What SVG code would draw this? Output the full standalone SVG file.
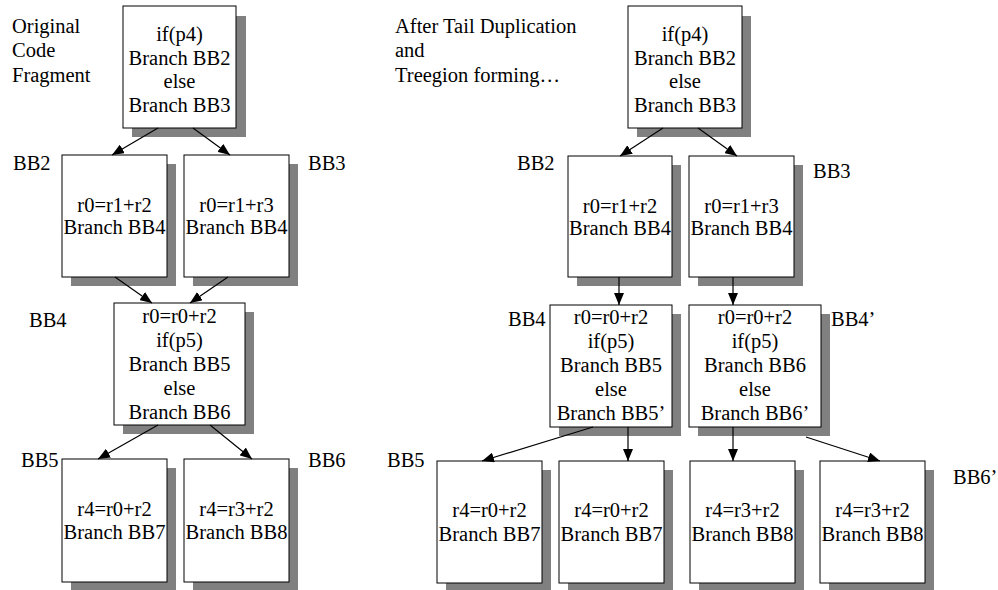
<svg xmlns="http://www.w3.org/2000/svg" width="998" height="590" viewBox="0 0 998 590" font-family="'Liberation Serif', 'DejaVu Serif', serif" font-size="20.5">
<style>
text{font-family:'Liberation Serif','DejaVu Serif',serif;font-size:20.5px;fill:#000}
.c{text-anchor:middle}
.sh{fill:#808080}
.bx{fill:#fff;stroke:#000;stroke-width:1}
.ln{stroke:#000;stroke-width:1.2;fill:none;marker-end:url(#ah)}
</style>
<defs>
<marker id="ah" markerUnits="userSpaceOnUse" markerWidth="13" markerHeight="10" refX="12" refY="5" orient="auto">
<path d="M0,0 L12,5 L0,10 Z" fill="#000"/>
</marker>
</defs>
<rect width="998" height="590" fill="#fff"/>

<g id="title-left">
<text x="12" y="33">Original</text>
<text x="12" y="57">Code</text>
<text x="12" y="82">Fragment</text>
</g>
<g id="title-right">
<text x="395" y="33">After Tail Duplication</text>
<text x="395" y="57">and</text>
<text x="395" y="82">Treegion forming…</text>
</g>

<g id="L_BB1">
<rect class="sh" x="132" y="16" width="114" height="121"/>
<rect class="bx" x="123" y="6" width="113" height="122"/>
<text class="c" x="179.5" y="41">if(p4)</text>
<text class="c" x="179.5" y="64.5">Branch BB2</text>
<text class="c" x="179.5" y="88">else</text>
<text class="c" x="179.5" y="111.5">Branch BB3</text>
</g>
<g id="L_BB2">
<text x="13" y="170">BB2</text>
<rect class="sh" x="71" y="164" width="105" height="122"/>
<rect class="bx" x="62" y="155" width="105" height="122"/>
<text class="c" x="114.5" y="212">r0=r1+r2</text>
<text class="c" x="114.5" y="234">Branch BB4</text>
</g>
<g id="L_BB3">
<text x="308" y="170">BB3</text>
<rect class="sh" x="193" y="164" width="105" height="122"/>
<rect class="bx" x="184" y="155" width="105" height="122"/>
<text class="c" x="236.5" y="212">r0=r1+r3</text>
<text class="c" x="236.5" y="234">Branch BB4</text>
</g>
<g id="L_BB4">
<text x="29" y="327">BB4</text>
<rect class="sh" x="123" y="312" width="131" height="122"/>
<rect class="bx" x="114" y="303" width="131" height="122"/>
<text class="c" x="179.5" y="323">r0=r0+r2</text>
<text class="c" x="179.5" y="347">if(p5)</text>
<text class="c" x="179.5" y="371">Branch BB5</text>
<text class="c" x="179.5" y="395">else</text>
<text class="c" x="179.5" y="419">Branch BB6</text>
</g>
<g id="L_BB5">
<text x="21" y="467">BB5</text>
<rect class="sh" x="71" y="468" width="105" height="123"/>
<rect class="bx" x="62" y="459" width="105" height="123"/>
<text class="c" x="114.5" y="516">r4=r0+r2</text>
<text class="c" x="114.5" y="539">Branch BB7</text>
</g>
<g id="L_BB6">
<text x="308" y="467">BB6</text>
<rect class="sh" x="193" y="468" width="105" height="123"/>
<rect class="bx" x="184" y="459" width="105" height="123"/>
<text class="c" x="236.5" y="516">r4=r3+r2</text>
<text class="c" x="236.5" y="539">Branch BB8</text>
</g>

<g id="R_BB1">
<rect class="sh" x="637" y="16" width="114" height="121"/>
<rect class="bx" x="628" y="6" width="114" height="122"/>
<text class="c" x="685" y="41">if(p4)</text>
<text class="c" x="685" y="64.5">Branch BB2</text>
<text class="c" x="685" y="88">else</text>
<text class="c" x="685" y="111.5">Branch BB3</text>
</g>
<g id="R_BB2">
<text x="517" y="170">BB2</text>
<rect class="sh" x="577" y="165" width="104" height="121"/>
<rect class="bx" x="568" y="156" width="104" height="121"/>
<text class="c" x="620" y="213">r0=r1+r2</text>
<text class="c" x="620" y="235">Branch BB4</text>
</g>
<g id="R_BB3">
<text x="813" y="178">BB3</text>
<rect class="sh" x="698" y="165" width="105" height="121"/>
<rect class="bx" x="689" y="156" width="105" height="121"/>
<text class="c" x="741.5" y="213">r0=r1+r3</text>
<text class="c" x="741.5" y="235">Branch BB4</text>
</g>
<g id="R_BB4">
<text x="508" y="326">BB4</text>
<rect class="sh" x="559" y="314" width="122" height="122"/>
<rect class="bx" x="550" y="305" width="122" height="122"/>
<text class="c" x="611" y="324">r0=r0+r2</text>
<text class="c" x="611" y="348">if(p5)</text>
<text class="c" x="611" y="372">Branch BB5</text>
<text class="c" x="611" y="396">else</text>
<text class="c" x="611" y="420">Branch BB5’</text>
</g>
<g id="R_BB4p">
<text x="831" y="326">BB4’</text>
<rect class="sh" x="698" y="314" width="132" height="122"/>
<rect class="bx" x="689" y="305" width="132" height="122"/>
<text class="c" x="755" y="324">r0=r0+r2</text>
<text class="c" x="755" y="348">if(p5)</text>
<text class="c" x="755" y="372">Branch BB6</text>
<text class="c" x="755" y="396">else</text>
<text class="c" x="755" y="420">Branch BB6’</text>
</g>
<g id="R_BB5">
<text x="387" y="467">BB5</text>
<rect class="sh" x="446" y="470" width="105" height="122"/>
<rect class="bx" x="437" y="461" width="105" height="122"/>
<text class="c" x="489.5" y="517">r4=r0+r2</text>
<text class="c" x="489.5" y="541">Branch BB7</text>
</g>
<g id="R_BB5p">
<rect class="sh" x="568" y="470" width="105" height="122"/>
<rect class="bx" x="559" y="461" width="105" height="122"/>
<text class="c" x="611.5" y="517">r4=r0+r2</text>
<text class="c" x="611.5" y="541">Branch BB7</text>
</g>
<g id="R_BB6">
<rect class="sh" x="699" y="470" width="105" height="122"/>
<rect class="bx" x="690" y="461" width="105" height="122"/>
<text class="c" x="742.5" y="517">r4=r3+r2</text>
<text class="c" x="742.5" y="541">Branch BB8</text>
</g>
<g id="R_BB6p">
<text x="953" y="484">BB6’</text>
<rect class="sh" x="829" y="470" width="105" height="122"/>
<rect class="bx" x="820" y="461" width="105" height="122"/>
<text class="c" x="872.5" y="517">r4=r3+r2</text>
<text class="c" x="872.5" y="541">Branch BB8</text>
</g>

<g id="connectors">
<line class="ln" x1="158" y1="128" x2="112" y2="155"/>
<line class="ln" x1="193" y1="128" x2="230" y2="155"/>
<line class="ln" x1="115" y1="277" x2="152" y2="303"/>
<line class="ln" x1="228" y1="277" x2="190" y2="303"/>
<line class="ln" x1="158" y1="425" x2="98" y2="459"/>
<line class="ln" x1="210" y1="425" x2="252" y2="459"/>
<line class="ln" x1="663" y1="128" x2="620" y2="156"/>
<line class="ln" x1="698" y1="128" x2="737" y2="156"/>
<line class="ln" x1="619" y1="277" x2="619" y2="305"/>
<line class="ln" x1="733" y1="277" x2="733" y2="305"/>
<line class="ln" x1="593" y1="427" x2="482" y2="461"/>
<line class="ln" x1="628" y1="427" x2="628" y2="461"/>
<line class="ln" x1="733" y1="427" x2="733" y2="461"/>
<line class="ln" x1="806" y1="437" x2="880" y2="461"/>
</g>
</svg>
